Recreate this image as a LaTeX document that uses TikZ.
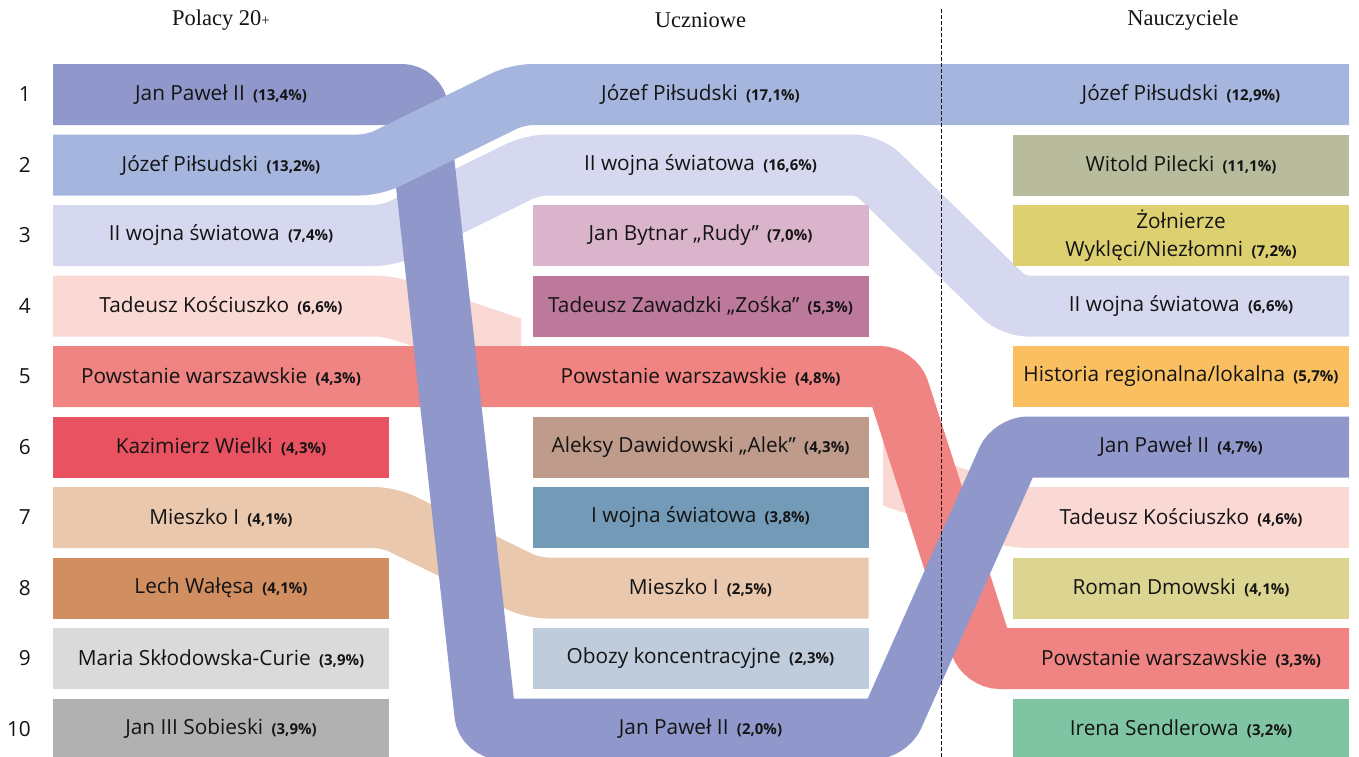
\documentclass[tikz,border=0pt]{standalone}
\usepackage{fontspec}
\newfontfamily\barfont{Open Sans}
\newfontfamily\headfont{Liberation Serif}
\usetikzlibrary{positioning}

\definecolor{ink}{HTML}{141414}
\definecolor{janpawel}{HTML}{8F97CB}
\definecolor{pilsudski}{HTML}{A6B5DD}
\definecolor{wojna}{HTML}{D6D8EF}
\definecolor{kosciuszko}{HTML}{FAD9D5}
\definecolor{powstanie}{HTML}{F08482}
\definecolor{mieszko}{HTML}{E9C8AE}
\definecolor{kazimierz}{HTML}{E95260}
\definecolor{walesa}{HTML}{D18E61}
\definecolor{curie}{HTML}{DADADA}
\definecolor{sobieski}{HTML}{B1B1B1}
\definecolor{rudy}{HTML}{DAB4CA}
\definecolor{zoska}{HTML}{BD799B}
\definecolor{alek}{HTML}{BF9B8B}
\definecolor{pierwsza}{HTML}{739BB8}
\definecolor{obozy}{HTML}{BFCCDC}
\definecolor{pilecki}{HTML}{B8BC9C}
\definecolor{wykleci}{HTML}{DDD071}
\definecolor{historia}{HTML}{F9BF61}
\definecolor{dmowski}{HTML}{DCD491}
\definecolor{sendler}{HTML}{7FC5A3}

\pgfdeclarelayer{ribbons}
\pgfsetlayers{ribbons,main}

\tikzset{
    bar/.style={
        rectangle, minimum width=336pt, minimum height=61pt, inner sep=0pt, outer sep=0pt, align=center, text=ink, font=\barfont\fontsize{20.8}{28}\selectfont
    },
    ribbon/.style={
        line width=61pt, rounded corners=15pt
    },
    head/.style={
        font=\headfont\fontsize{22.5}{26}\selectfont, text=ink
    },
    rank/.style={
        inner sep=0pt, text=ink, font=\barfont\fontsize{20.8}{24}\selectfont
    },
    divider/.style={
        draw=ink, line width=1pt, dash pattern=on 3.5pt off 2.5pt
    }
}
\newcommand{\pct}[1]{\hspace{0.4em}{\fontsize{15}{16}\selectfont\bfseries(#1)}}

\begin{document}
\begin{tikzpicture}[x=1pt, y=-1pt, node distance=9.5pt]
    \useasboundingbox (0,0) rectangle (1359,756);

    % naglowki
    \node[head] (hpol) at (221,20) {Polacy 20{\fontsize{15}{16}\selectfont+}};
    \node[head] (huczn) at (700.5,20) {Uczniowe};
    \node[head] (hnaucz) at (1183,20) {Nauczyciele};

    % Polacy 20+
    \node[bar] (p1) at (221,94.5) {Jan Paweł II\pct{13,4\%}};
    \node[bar, below=of p1] (p2) {Józef Piłsudski\pct{13,2\%}};
    \node[bar, below=of p2] (p3) {II wojna światowa\pct{7,4\%}};
    \node[bar, below=of p3] (p4) {Tadeusz Kościuszko\pct{6,6\%}};
    \node[bar, below=of p4] (p5) {Powstanie warszawskie\pct{4,3\%}};
    \node[bar, fill=kazimierz, below=of p5] (p6) {Kazimierz Wielki\pct{4,3\%}};
    \node[bar, below=of p6] (p7) {Mieszko I\pct{4,1\%}};
    \node[bar, fill=walesa, below=of p7] (p8) {Lech Wałęsa\pct{4,1\%}};
    \node[bar, fill=curie, below=of p8] (p9) {Maria Skłodowska-Curie\pct{3,9\%}};
    \node[bar, fill=sobieski, below=of p9] (p10) {Jan III Sobieski\pct{3,9\%}};

    % Uczniowe
    \node[bar] (u1) at (700.5,94.5) {Józef Piłsudski\pct{17,1\%}};
    \node[bar, below=of u1] (u2) {II wojna światowa\pct{16,6\%}};
    \node[bar, fill=rudy, below=of u2] (u3) {Jan Bytnar „Rudy”\pct{7,0\%}};
    \node[bar, fill=zoska, below=of u3] (u4) {Tadeusz Zawadzki „Zośka”\pct{5,3\%}};
    \node[bar, below=of u4] (u5) {Powstanie warszawskie\pct{4,8\%}};
    \node[bar, fill=alek, below=of u5] (u6) {Aleksy Dawidowski „Alek”\pct{4,3\%}};
    \node[bar, fill=pierwsza, below=of u6] (u7) {I wojna światowa\pct{3,8\%}};
    \node[bar, below=of u7] (u8) {Mieszko I\pct{2,5\%}};
    \node[bar, fill=obozy, below=of u8] (u9) {Obozy koncentracyjne\pct{2,3\%}};
    \node[bar, below=of u9] (u10) {Jan Paweł II\pct{2,0\%}};

    % Nauczyciele
    \node[bar] (n1) at (1181,94.5) {Józef Piłsudski\pct{12,9\%}};
    \node[bar, fill=pilecki, below=of n1] (n2) {Witold Pilecki\pct{11,1\%}};
    \node[bar, fill=wykleci, below=of n2] (n3) {Żołnierze\\Wyklęci/Niezłomni\pct{7,2\%}};
    \node[bar, below=of n3] (n4) {II wojna światowa\pct{6,6\%}};
    \node[bar, fill=historia, below=of n4] (n5) {Historia regionalna/lokalna\pct{5,7\%}};
    \node[bar, below=of n5] (n6) {Jan Paweł II\pct{4,7\%}};
    \node[bar, below=of n6] (n7) {Tadeusz Kościuszko\pct{4,6\%}};
    \node[bar, fill=dmowski, below=of n7] (n8) {Roman Dmowski\pct{4,1\%}};
    \node[bar, below=of n8] (n9) {Powstanie warszawskie\pct{3,3\%}};
    \node[bar, fill=sendler, below=of n9] (n10) {Irena Sendlerowa\pct{3,2\%}};

    % miejsca
    \foreach \k in {1,...,10}
        \node[rank, left=22pt of p\k] (nr\k) {\k};

    % wstegi
    \begin{pgfonlayer}{ribbons}
        \begin{scope}
            \clip (0,0) rectangle (521,760) (883,0) rectangle (1359,760);
            \draw[ribbon, kosciuszko] (p4.west) -- (p4.east) -- (n7.west) -- (n7.east);
        \end{scope}
        \draw[ribbon, wojna] (p3.west) -- (p3.east) -- (u2.west) -- (u2.east) -- (n4.west) -- (n4.east);
        \draw[ribbon, mieszko] (p7.west) -- (p7.east) -- (u8.west) -- (u8.east);
        \draw[ribbon, powstanie] (p5.west) -- ([xshift=26pt]u5.east) -- ([xshift=-28pt]n9.west) -- (n9.east);
        \draw[ribbon, janpawel] (p1.west) -- ([xshift=27.5pt]p1.east) -- ([xshift=-46pt]u10.west) -- ([xshift=19pt]u10.east) -- (n6.west) -- (n6.east);
        \draw[ribbon, pilsudski] (p2.west) -- ([xshift=-15pt]p2.east) -- ([xshift=-15pt]u1.west) -- (n1.east);
    \end{pgfonlayer}

    \draw[divider] (941.5,9) -- (941.5,760);

\end{tikzpicture}
\end{document}
